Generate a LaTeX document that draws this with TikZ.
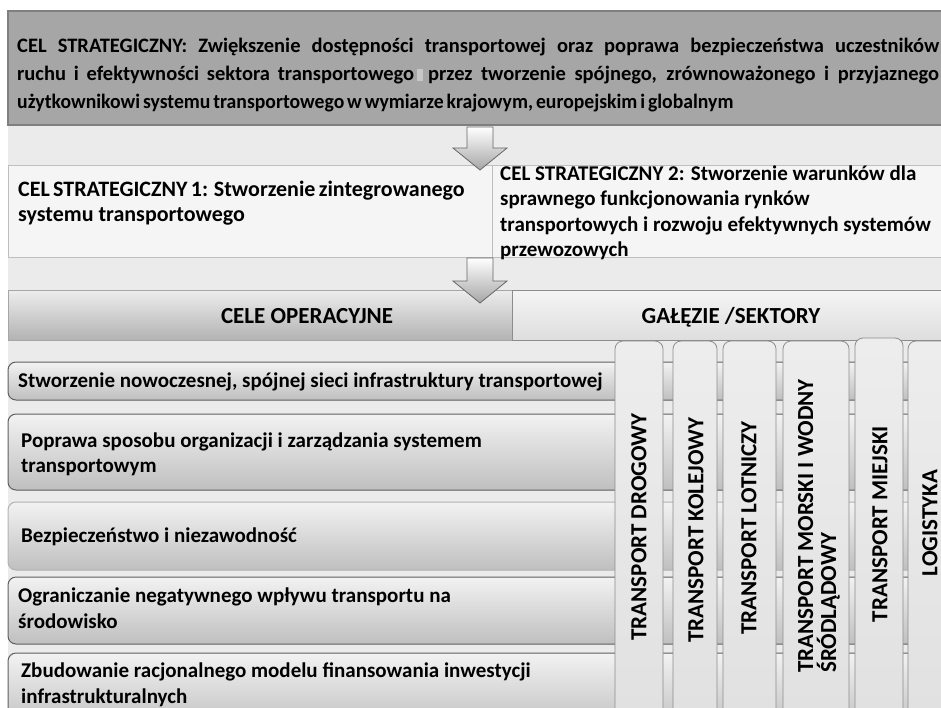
\documentclass[tikz,border=0pt]{standalone}
\usepackage{fontspec}
\setmainfont{Carlito}
\definecolor{bg}{HTML}{EBEBEB}
\definecolor{topfill}{HTML}{A6A6A6}
\definecolor{topline}{HTML}{7F7F7F}
\definecolor{boxline}{HTML}{BFBFBF}
\definecolor{rowline}{HTML}{5F5F5F}
\definecolor{colline}{HTML}{8C8C8C}
\tikzset{
  txt/.style={inner sep=0pt, anchor=base west, font=\fontsize{21}{25}\selectfont\bfseries, text=black},
  toptxt/.style={txt, font=\fontsize{20.5}{28}\selectfont\bfseries},
  headtxt/.style={txt, anchor=base, font=\fontsize{23}{27}\selectfont\bfseries},
  coltxt/.style={inner sep=0pt, rotate=90, font=\fontsize{23}{23}\selectfont\bfseries, text=black, align=left},
  rowbox/.style={draw=rowline, line width=1pt, top color=white!95!black, bottom color=black!25, rounded corners=8pt},
  colbox/.style={draw=colline, line width=0.8pt, top color=black!7, bottom color=black!12, rounded corners=8pt},
  blockarrow/.style={draw=black!60, line width=0.8pt, top color=white, bottom color=black!35},
}
\begin{document}
\begin{tikzpicture}[x=1pt,y=-1pt]
\useasboundingbox (0,0) rectangle (941,707);
\begin{scope}
\clip (0,0) rectangle (941,707);
% background
\fill[bg] (8,125) rectangle (960,720);
% top box
\draw[fill=topfill, draw=topline, line width=1.2pt] (8,11) rectangle (960,125);
\node[toptxt] (t1) at (17,52) {\makebox[922pt][s]{CEL STRATEGICZNY: Zwiększenie dostępności transportowej oraz poprawa bezpieczeństwa uczestników}};
\node[toptxt] (t2a) at (17,80) {\makebox[397pt][s]{ruchu i efektywności sektora transportowego}};
\fill[black!22] (417,69) rectangle (423,81);
\node[toptxt] (t2b) at (428,80) {\makebox[511pt][s]{przez tworzenie spójnego, zrównoważonego i przyjaznego}};
\node[toptxt] (t3) at (17,108) {\scalebox{0.96}[1]{\spaceskip=3pt użytkownikowi systemu transportowego w wymiarze krajowym, europejskim i globalnym}};
% strategic goals
\draw[fill=white!96!black, draw=boxline, line width=0.8pt] (8,165) rectangle (492,257);
\draw[fill=white!96!black, draw=boxline, line width=0.8pt] (492,165) rectangle (960,257);
\node[txt, font=\fontsize{22}{25}\selectfont\bfseries] (c1a) at (18,196) {\makebox[432pt][s]{CEL STRATEGICZNY 1: Stworzenie zintegrowanego}};
\node[txt, font=\fontsize{22}{25}\selectfont\bfseries] (c1b) at (18,221) {systemu transportowego};
\node[txt] (c2a) at (500,180) {CEL STRATEGICZNY 2: Stworzenie warunków dla};
\node[txt] (c2b) at (500,205) {sprawnego funkcjonowania rynków};
\node[txt] (c2c) at (500,231) {transportowych i rozwoju efektywnych systemów};
\node[txt] (c2d) at (500,256) {przewozowych};
% arrows
\path[blockarrow] (467,127) -- (493,127) -- (493,148) -- (507,148) -- (480,170) -- (453,148) -- (467,148) -- cycle;
% headers
\path[draw=black!35, line width=0.8pt, top color=black!7, bottom color=black!30] (8,290) rectangle (512,340);
\path[draw=colline, line width=1pt, top color=black!4, bottom color=black!13] (512,290) rectangle (960,340);
\path[blockarrow] (467,258) -- (493,258) -- (493,281) -- (507,281) -- (480,303) -- (453,281) -- (467,281) -- cycle;
\node[headtxt] (h1) at (307,323) {CELE OPERACYJNE};
\node[headtxt] (h2) at (731,323) {GAŁĘZIE /SEKTORY};
% rows
\path[rowbox] (960,362) -- (8,362) -- (8,400) -- (960,400);
\path[rowbox] (960,414) -- (8,414) -- (8,490) -- (960,490);
\path[rowbox, draw=black!30] (960,502) -- (8,502) -- (8,570) -- (960,570);
\path[rowbox] (960,577) -- (8,577) -- (8,644) -- (960,644);
\path[rowbox] (960,653) -- (8,653) -- (8,730) -- (960,730);
\node[txt] (r1) at (18,387) {Stworzenie nowoczesnej, spójnej sieci infrastruktury transportowej};
\node[txt] (r2a) at (21,447) {Poprawa sposobu organizacji i zarządzania systemem};
\node[txt] (r2b) at (21,472) {transportowym};
\node[txt] (r3) at (21,542) {Bezpieczeństwo i niezawodność};
\node[txt] (r4a) at (18,602) {Ograniczanie negatywnego wpływu transportu na};
\node[txt] (r4b) at (18,628) {środowisko};
\node[txt] (r5a) at (21,677) {Zbudowanie racjonalnego modelu finansowania inwestycji};
\node[txt] (r5b) at (21,703) {infrastrukturalnych};
% columns
\path[colbox] (615,730) -- (615,341) -- (663,341) -- (663,730);
\path[colbox] (673,730) -- (673,341) -- (717,341) -- (717,730);
\path[colbox] (723,730) -- (723,341) -- (776,341) -- (776,730);
\path[colbox] (783,730) -- (783,341) -- (849,341) -- (849,730);
\path[colbox] (855,730) -- (855,338) -- (903,338) -- (903,730);
\path[colbox] (908,730) -- (908,341) -- (960,341) -- (960,730);
\node[coltxt] (k1) at (639,527) {TRANSPORT DROGOWY};
\node[coltxt] (k2) at (696,530) {TRANSPORT KOLEJOWY};
\node[coltxt] (k3) at (749,528) {TRANSPORT LOTNICZY};
\node[coltxt] (k4) at (819,526) {TRANSPORT MORSKI I WODNY\\ŚRÓDLĄDOWY};
\node[coltxt] (k5) at (880,524) {TRANSPORT MIEJSKI};
\node[coltxt] (k6) at (930,523) {LOGISTYKA};
\end{scope}
\end{tikzpicture}
\end{document}
